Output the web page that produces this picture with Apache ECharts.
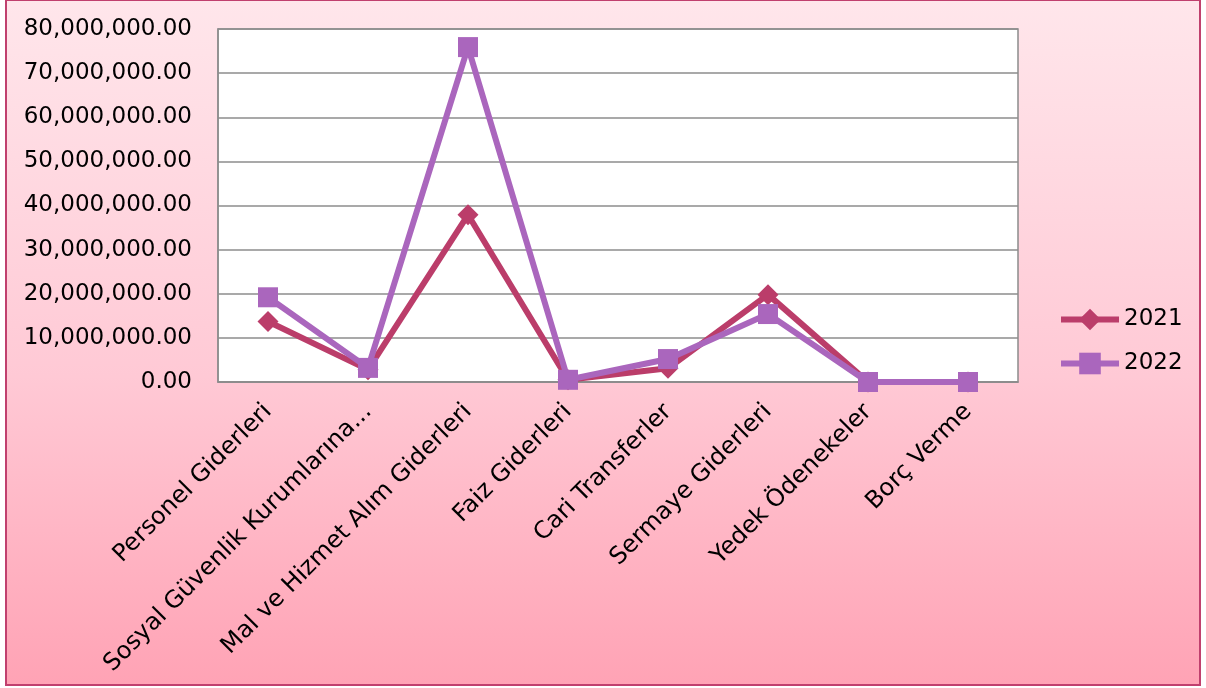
<!DOCTYPE html>
<html>
<head>
<meta charset="utf-8">
<script src="https://cdn.jsdelivr.net/npm/echarts@6/dist/echarts.min.js"></script>
<style>
html,body{margin:0;padding:0;width:1206px;height:688px;overflow:hidden;background:#ffffff;}
#frame{position:absolute;left:5px;top:-1px;width:1192px;height:683px;border:2px solid #c0406e;background:linear-gradient(to bottom,#ffe6eb 0%,#ffc9d5 55%,#ffa3b5 100%);}
#chart{position:absolute;left:0;top:0;width:1206px;height:688px;}
</style>
</head>
<body>
<div id="frame"></div>
<div id="chart"></div>
<script>
var categories = ["Personel Giderleri","Sosyal Güvenlik Kurumlarına...","Mal ve Hizmet Alım Giderleri","Faiz Giderleri","Cari Transferler","Sermaye Giderleri","Yedek Ödenekeler","Borç Verme"];
var values2021 = [13700000, 2800000, 37900000, 500000, 3100000, 19800000, 0, 0];
var values2022 = [19200000, 3200000, 75900000, 500000, 5200000, 15400000, 0, 0];
var seriesNames = ["2021","2022"];
var yMin = 0, yMax = 80000000, yInterval = 10000000;

var font = "DejaVu Sans";
function fmt(v){
  var s = Math.round(v).toString().replace(/\B(?=(\d{3})+(?!\d))/g, ",");
  return s + ".00";
}
var chart = echarts.init(document.getElementById('chart'), null, {renderer:'canvas'});
chart.setOption({
  backgroundColor: 'transparent',
  animation: false,
  textStyle: {fontFamily: font},
  grid: {left: 218, right: 188, top: 29, bottom: 306, show: true, backgroundColor: '#ffffff', borderColor: '#8c8c8c', borderWidth: 1.5},
  legend: {
    orient: 'vertical', left: 1053, top: 303, itemWidth: 58, itemHeight: 27, itemGap: 21,
    textStyle: {fontFamily: font, fontSize: 23, color: '#000'},
    lineStyle: {width: 6},
    data: seriesNames
  },
  xAxis: {
    type: 'category', data: categories, boundaryGap: true,
    axisLine: {lineStyle: {color: '#8c8c8c', width: 1.5}},
    axisTick: {show: false},
    axisLabel: {rotate: 45, margin: 26, fontSize: 24, color: '#000', fontFamily: font, interval: 0}
  },
  yAxis: {
    type: 'value', min: yMin, max: yMax, interval: yInterval,
    axisLine: {show: true, lineStyle: {color: '#8c8c8c', width: 1.5}},
    axisTick: {show: false},
    splitLine: {lineStyle: {color: '#8c8c8c', width: 1.5}},
    axisLabel: {formatter: fmt, margin: 26, fontSize: 23, color: '#000', fontFamily: font}
  },
  series: [
    {name: seriesNames[0], type: 'line', data: values2021, symbol: 'diamond', symbolSize: 21,
     lineStyle: {width: 6, color: '#bb3d6a'}, itemStyle: {color: '#bb3d6a'}, z: 2},
    {name: seriesNames[1], type: 'line', data: values2022, symbol: 'rect', symbolSize: 20,
     lineStyle: {width: 6, color: '#aa66bd'}, itemStyle: {color: '#aa66bd'}, z: 3}
  ]
});
</script>
</body>
</html>
